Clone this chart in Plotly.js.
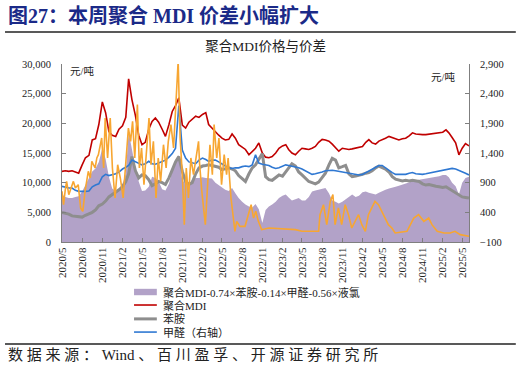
<!DOCTYPE html>
<html>
<head>
<meta charset="utf-8">
<script src="https://cdn.plot.ly/plotly-3.0.1.min.js"></script>
<style>
html,body{margin:0;padding:0;background:#fff;}
#chart{width:521px;height:374px;}
</style>
</head>
<body>
<div id="chart"></div>
<script>
// Semi-monthly sample dates (2020-05 .. 2025-06)
const dates = [
"2020-05-01","2020-05-16","2020-06-01","2020-06-16","2020-07-01","2020-07-16","2020-08-01","2020-08-16","2020-09-01","2020-09-16",
"2020-10-01","2020-10-16","2020-11-01","2020-11-16","2020-12-01","2020-12-16","2021-01-01","2021-01-16","2021-02-01","2021-02-16",
"2021-03-01","2021-03-16","2021-04-01","2021-04-16","2021-05-01","2021-05-16","2021-06-01","2021-06-16","2021-07-01","2021-07-16",
"2021-08-01","2021-08-16","2021-09-01","2021-09-16","2021-10-01","2021-10-16","2021-11-01","2021-11-16","2021-12-01","2021-12-16",
"2022-01-01","2022-01-16","2022-02-01","2022-02-16","2022-03-01","2022-03-16","2022-04-01","2022-04-16","2022-05-01","2022-05-16",
"2022-06-01","2022-06-16","2022-07-01","2022-07-16","2022-08-01","2022-08-16","2022-09-01","2022-09-16","2022-10-01","2022-10-16",
"2022-11-01","2022-11-16","2022-12-01","2022-12-16","2023-01-01","2023-01-16","2023-02-01","2023-02-16","2023-03-01","2023-03-16",
"2023-04-01","2023-04-16","2023-05-01","2023-05-16","2023-06-01","2023-06-16","2023-07-01","2023-07-16","2023-08-01","2023-08-16",
"2023-09-01","2023-09-16","2023-10-01","2023-10-16","2023-11-01","2023-11-16","2023-12-01","2023-12-16","2024-01-01","2024-01-16",
"2024-02-01","2024-02-16","2024-03-01","2024-03-16","2024-04-01","2024-04-16","2024-05-01","2024-05-16","2024-06-01","2024-06-16",
"2024-07-01","2024-07-16","2024-08-01","2024-08-16","2024-09-01","2024-09-16","2024-10-01","2024-10-16","2024-11-01","2024-11-16",
"2024-12-01","2024-12-16","2025-01-01","2025-01-16","2025-02-01","2025-02-16","2025-03-01","2025-03-16","2025-04-01","2025-04-16",
"2025-05-01","2025-05-16","2025-06-01"];

// 价差 (元/吨, left axis)
const spread = [
8000,7600,7400,7400,7600,7700,8500,9600,10800,11900,
12400,13500,15800,14000,11000,9000,8600,9000,9800,11500,
18600,15500,12500,10200,8600,8700,9300,11000,10800,10200,
8900,8700,9800,12000,13500,14700,10300,10000,9800,10500,
10800,10800,10900,10800,10800,10700,10000,9600,9100,8800,
8600,9100,8200,7400,6800,6300,6000,5800,6400,5500,
3200,5400,6000,6300,6800,7400,7800,8000,7500,7000,
7200,7400,7000,7000,7600,8500,8700,8800,9000,9100,
8200,7000,6800,6500,6800,7200,7700,8000,7600,7800,
8400,8500,8300,8200,8000,8300,8600,8800,9000,9100,
9300,9500,9700,9900,10000,10200,10400,10500,10600,10700,
10800,10900,11000,11100,11300,11300,10900,10000,9400,8000,
10000,10800,11000];

// 聚合MDI (元/吨, left axis)
const mdi = [
11900,12000,11900,12000,11800,11600,13000,14200,14600,17200,
17400,19800,23600,21800,18600,18000,17800,19000,19600,21000,
27500,24000,21300,18000,16400,16800,19000,20300,20900,20200,
19000,17800,19800,22000,23000,24300,19700,19200,20200,20700,
21200,21000,21500,21800,19800,19200,18500,18000,17500,17200,
17300,18200,17500,16400,16000,15600,14700,15200,15800,16700,
15000,14300,14200,14400,15000,15800,16200,16400,15600,15000,
14700,15300,15800,15700,15600,15800,16100,16800,17300,17200,
17000,16500,15800,15300,15800,15700,15600,15700,15800,16000,
16100,16800,17250,16700,16500,17000,17200,17500,17800,17600,
17500,17200,17400,17500,17900,18400,18200,18100,18100,18100,
18200,18200,18300,18400,18500,18900,18400,17600,16700,14700,
15800,16600,16200];

// 苯胺 (元/吨, left axis)
const aniline = [
5000,4900,4700,4400,4300,4200,4200,4500,4700,5000,
5400,6100,6400,6900,7600,8000,8300,8800,9300,10200,
11500,14400,12000,10800,11300,11200,10500,9500,9800,10200,
10000,9700,10800,12000,13500,14400,11900,10200,9700,10000,
11500,12500,12800,12900,13000,12900,12800,12600,12200,12300,
12500,12300,12000,11200,10600,10200,11500,12500,13000,14000,
14900,11000,10500,10400,10800,11300,11100,11800,12600,13200,
12800,11800,11300,10700,10200,10000,9800,10100,10800,11600,
13000,14100,13800,12500,12700,12900,11500,11000,11100,11200,
11400,11600,11700,12000,12500,12800,12600,12300,11800,11000,
10600,10400,10300,10400,10300,10400,10300,10200,9800,9600,
9700,9500,9400,9300,9200,9300,9000,8700,8400,8000,
7600,7500,7400];

// 甲醛 (元/吨, right axis)
const formaldehyde = [
838,820,810,810,770,754,750,754,760,830,
860,880,1000,1040,1020,1030,1050,1080,1130,1160,
1190,1280,1250,1230,1200,1220,1260,1220,1210,1230,
1250,1280,1330,1390,1480,2200,1450,1315,1250,1230,
1220,1280,1315,1290,1260,1280,1280,1250,1210,1180,
1150,1140,1150,1150,1170,1180,1170,1200,1370,1230,
1210,1200,1190,1160,1140,1150,1180,1200,1190,1180,
1170,1150,1130,1100,1070,1040,1050,1060,1080,1100,
1110,1110,1100,1090,1080,1070,1060,1050,1040,1030,
1040,1070,1090,1120,1150,1190,1190,1150,1100,1070,
1040,1040,1030,1040,1060,1070,1050,1040,1040,1050,
1060,1070,1080,1090,1100,1120,1130,1140,1130,1110,
1090,1060,1030];

// 液氯 (元/吨, right axis)
const chlorineDates = [
"2020-05-01","2020-05-08","2020-05-16","2020-05-22","2020-06-01","2020-06-07","2020-06-16","2020-06-22","2020-07-01","2020-07-14",
"2020-07-25","2020-08-04","2020-08-14","2020-08-29","2020-09-07","2020-09-14","2020-09-29","2020-10-07","2020-10-14","2020-10-29",
"2020-11-07","2020-11-14","2020-11-25","2020-12-07","2020-12-17","2020-12-29","2021-01-10","2021-01-22","2021-02-04","2021-02-14",
"2021-02-28","2021-03-10","2021-03-19","2021-03-29","2021-04-10","2021-04-19","2021-04-29","2021-05-10","2021-05-22","2021-06-02",
"2021-06-11","2021-06-22","2021-07-04","2021-07-14","2021-07-25","2021-08-07","2021-08-19","2021-08-29","2021-09-10","2021-09-22",
"2021-10-04","2021-10-13","2021-10-22","2021-11-01","2021-11-10","2021-11-19","2021-11-29","2021-12-10","2021-12-22","2022-01-07",
"2022-01-14","2022-01-19","2022-01-29","2022-02-14","2022-02-26","2022-03-07","2022-03-18","2022-03-26","2022-04-07","2022-04-17",
"2022-04-29","2022-05-11","2022-05-22","2022-05-29","2022-06-11","2022-06-22","2022-06-29","2022-07-07","2022-07-22","2022-08-14",
"2022-08-29","2022-09-11","2022-09-22","2022-10-02","2022-10-14","2022-10-29","2022-12-01","2023-02-01","2023-04-01","2023-05-01",
"2023-07-16","2023-07-22","2023-08-07","2023-08-22","2023-09-07","2023-09-19","2023-09-29","2023-10-14","2023-10-29","2023-11-14",
"2023-11-29","2023-12-14","2023-12-29","2024-01-14","2024-01-29","2024-02-14","2024-02-28","2024-03-14","2024-03-29","2024-04-14",
"2024-04-29","2024-05-14","2024-05-29","2024-06-14","2024-06-29","2024-08-22","2024-09-22","2024-10-14","2024-11-07","2024-11-29",
"2024-12-14","2025-01-07","2025-02-07","2025-03-07","2025-03-29","2025-04-22","2025-06-01"];
const chlorine = [
754,529,782,922,698,754,838,922,810,866,
473,417,754,1091,979,1260,1147,1316,1372,1653,
1147,1990,1316,1990,1147,642,1203,979,642,1091,
1821,1597,1934,1316,2215,1147,1484,866,1540,1990,
1203,1597,642,1316,922,1540,1147,1597,1878,1484,
2327,2950,1653,1035,192,1147,642,1316,1035,1484,
1597,1203,754,192,866,1540,1035,1878,1316,1653,
866,1372,1035,1316,642,248,80,248,164,164,
361,529,304,417,248,108,136,125,108,80,
80,361,529,192,585,698,192,473,192,529,
361,136,248,361,192,80,361,473,585,529,
417,304,192,136,52,80,304,361,248,304,
192,80,52,52,80,24,-4];

const tickVals = ["2020-05-01","2020-08-01","2020-11-01","2021-02-01","2021-05-01","2021-08-01","2021-11-01",
"2022-02-01","2022-05-01","2022-08-01","2022-11-01","2023-02-01","2023-05-01","2023-08-01","2023-11-01",
"2024-02-01","2024-05-01","2024-08-01","2024-11-01","2025-02-01","2025-05-01"];
const tickText = ["2020/5","2020/8","2020/11","2021/2","2021/5","2021/8","2021/11",
"2022/2","2022/5","2022/8","2022/11","2023/2","2023/5","2023/8","2023/11",
"2024/2","2024/5","2024/8","2024/11","2025/2","2025/5"];

const seriesNames = ["聚合MDI-0.74×苯胺-0.14×甲醛-0.56×液氯","聚合MDI","苯胺","甲醛（右轴）","液氯（右轴）"];
const seriesColors = ["#b2a2c8", "#c00000", "#8e8e8e", "#2f78d2", "#f7a632"];

const SERIF = "'Liberation Serif','Times New Roman','Noto Sans CJK SC',serif";
const CJK = "'Liberation Serif','Noto Sans CJK SC',serif";

const traces = [
  {x: dates, y: spread, name: seriesNames[0], type: "scatter", mode: "lines", showlegend: false,
   fill: "tozeroy", fillcolor: seriesColors[0], line: {color: seriesColors[0], width: 0}},
  {x: dates, y: mdi, name: seriesNames[1], type: "scatter", mode: "lines", showlegend: false,
   line: {color: seriesColors[1], width: 1.6}},
  {x: dates, y: aniline, name: seriesNames[2], type: "scatter", mode: "lines", showlegend: false,
   line: {color: seriesColors[2], width: 3}},
  {x: dates, y: formaldehyde, name: seriesNames[3], type: "scatter", mode: "lines", yaxis: "y2", showlegend: false,
   line: {color: seriesColors[3], width: 1.6}},
  {x: chlorineDates, y: chlorine, name: seriesNames[4], type: "scatter", mode: "lines", yaxis: "y2",
   showlegend: false, line: {color: seriesColors[4], width: 1.6}}
];

// Custom compact legend (paper coordinates)
const legX0 = 0.177, legX1 = 0.233, legTextX = 0.243;
const legRows = [-0.281, -0.354, -0.432, -0.506];
const legWidths = [0, 1.6, 3, 1.6];
const legendShapes = [];
const legendAnn = [];
for (let i = 0; i < 4; i++) {
  if (i === 0) {
    legendShapes.push({type: "rect", xref: "paper", yref: "paper", x0: legX0, x1: legX1,
      y0: legRows[i] - 0.018, y1: legRows[i] + 0.018, fillcolor: seriesColors[0], line: {width: 0}});
  } else {
    legendShapes.push({type: "line", xref: "paper", yref: "paper", x0: legX0, x1: legX1,
      y0: legRows[i], y1: legRows[i], line: {color: seriesColors[i], width: legWidths[i]}});
  }
  legendAnn.push({text: seriesNames[i], xref: "paper", yref: "paper", x: legTextX, y: legRows[i],
    xanchor: "left", yanchor: "middle", showarrow: false,
    font: {family: CJK, size: 11, color: "#222"}});
}

const layout = {
  width: 521, height: 374,
  margin: {l: 62, r: 52, t: 64, b: 132, pad: 0},
  paper_bgcolor: "#ffffff", plot_bgcolor: "#ffffff",
  font: {family: CJK, size: 11, color: "#222"},
  title: {text: "聚合MDI价格与价差", font: {family: CJK, size: 13.5, color: "#222"},
          x: 0.51, xanchor: "center", y: 0.877, yanchor: "middle"},
  showlegend: false,
  xaxis: {type: "date", range: ["2020-05-01", "2025-06-01"], tickmode: "array",
          tickvals: tickVals, ticktext: tickText, tickangle: -90,
          tickfont: {family: SERIF, size: 11, color: "#222"},
          showline: true, linecolor: "#7f7f7f", linewidth: 1,
          ticks: "inside", ticklen: 4, tickcolor: "#7f7f7f",
          showgrid: false, zeroline: false, fixedrange: true},
  yaxis: {range: [0, 30000], tick0: 0, dtick: 5000, tickformat: ",",
          tickfont: {family: SERIF, size: 10.5, color: "#222"},
          showline: true, linecolor: "#7f7f7f", linewidth: 1,
          ticks: "inside", ticklen: 4, tickcolor: "#7f7f7f", ticklabelstandoff: 8,
          showgrid: false, zeroline: false, fixedrange: true},
  yaxis2: {range: [-100, 2900], tick0: -100, dtick: 500, tickformat: ",",
           overlaying: "y", side: "right",
           tickfont: {family: SERIF, size: 10.5, color: "#222"},
           showline: true, linecolor: "#7f7f7f", linewidth: 1,
           ticks: "inside", ticklen: 4, tickcolor: "#7f7f7f", ticklabelstandoff: 8,
           showgrid: false, zeroline: false, fixedrange: true},
  shapes: [
    {type: "line", xref: "paper", yref: "paper", x0: -0.14, x1: 1.115, y0: 1.18, y1: 1.18,
     line: {color: "#222", width: 1.5}},
    {type: "line", xref: "paper", yref: "paper", x0: -0.14, x1: 1.115, y0: -0.573, y1: -0.573,
     line: {color: "#222", width: 1.5}}
  ].concat(legendShapes),
  annotations: [
    {text: "<b>图27：本周聚合 MDI 价差小幅扩大</b>", xref: "paper", yref: "paper",
     x: -0.138, y: 1.27, xanchor: "left", yanchor: "middle", showarrow: false,
     font: {family: CJK, size: 20, color: "#1b2a88"}},
    {text: "元/吨", xref: "paper", yref: "paper", x: 0.015, y: 0.96, xanchor: "left", yanchor: "middle",
     showarrow: false, font: {family: CJK, size: 10.5, color: "#222"}},
    {text: "元/吨", xref: "paper", yref: "paper", x: 0.97, y: 0.925, xanchor: "right", yanchor: "middle",
     showarrow: false, font: {family: CJK, size: 10.5, color: "#222"}},
    {text: "数 据 来 源 ： Wind 、 百 川 盈 孚 、 开 源 证 券 研 究 所", xref: "paper", yref: "paper",
     x: -0.138, y: -0.636, xanchor: "left", yanchor: "middle", showarrow: false,
     font: {family: CJK, size: 15, color: "#222"}}
  ].concat(legendAnn)
};

Plotly.newPlot("chart", traces, layout, {displayModeBar: false, staticPlot: true});
</script>
</body>
</html>
